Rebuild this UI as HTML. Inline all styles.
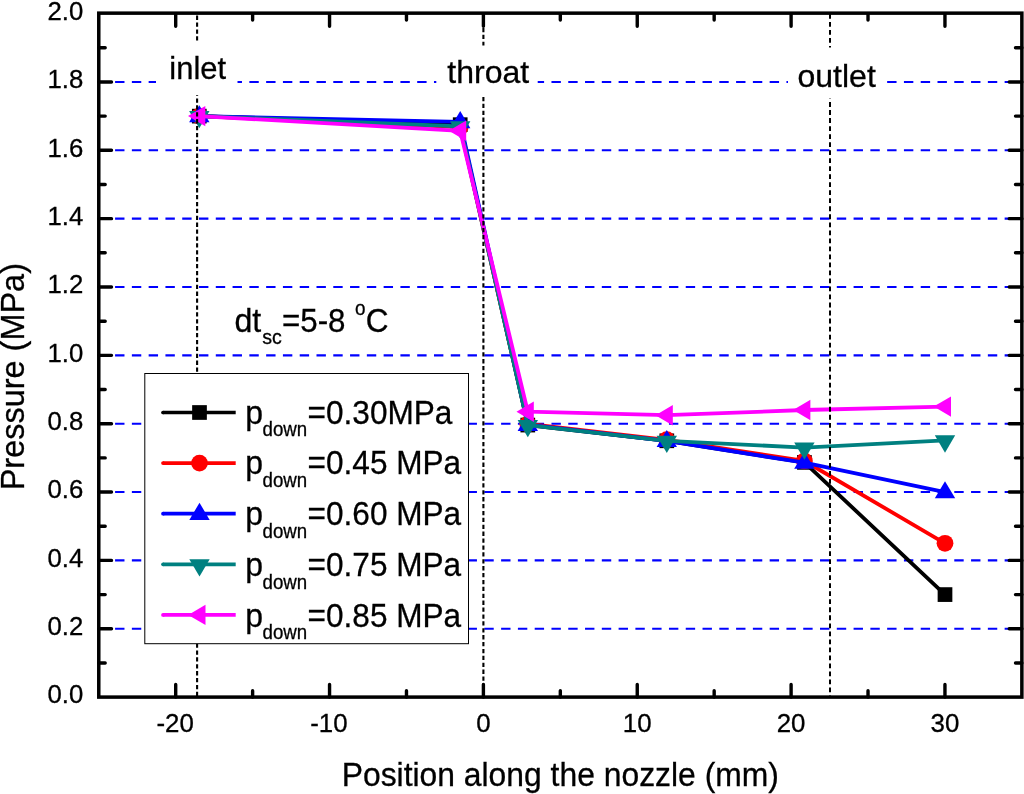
<!DOCTYPE html><html><head><meta charset="utf-8"><title>Pressure along the nozzle</title>
<style>html,body{margin:0;padding:0;background:#fff;}body{width:1024px;height:794px;overflow:hidden;}svg{display:block;}text{font-family:"Liberation Sans", Arial, sans-serif;fill:#000;stroke:#000;stroke-width:0.3px;}</style></head><body>
<svg width="1024" height="794" viewBox="0 0 1024 794">
<rect x="0" y="0" width="1024" height="794" fill="#fff"/>
<line x1="98.3" y1="628.75" x2="1021.9" y2="628.75" stroke="#0000ff" stroke-width="2.1" stroke-dasharray="9.4 7.384"/>
<line x1="98.3" y1="560.40" x2="1021.9" y2="560.40" stroke="#0000ff" stroke-width="2.1" stroke-dasharray="9.4 7.384"/>
<line x1="98.3" y1="492.05" x2="1021.9" y2="492.05" stroke="#0000ff" stroke-width="2.1" stroke-dasharray="9.4 7.384"/>
<line x1="98.3" y1="423.70" x2="1021.9" y2="423.70" stroke="#0000ff" stroke-width="2.1" stroke-dasharray="9.4 7.384"/>
<line x1="98.3" y1="355.35" x2="1021.9" y2="355.35" stroke="#0000ff" stroke-width="2.1" stroke-dasharray="9.4 7.384"/>
<line x1="98.3" y1="287.00" x2="1021.9" y2="287.00" stroke="#0000ff" stroke-width="2.1" stroke-dasharray="9.4 7.384"/>
<line x1="98.3" y1="218.65" x2="1021.9" y2="218.65" stroke="#0000ff" stroke-width="2.1" stroke-dasharray="9.4 7.384"/>
<line x1="98.3" y1="150.30" x2="1021.9" y2="150.30" stroke="#0000ff" stroke-width="2.1" stroke-dasharray="9.4 7.384"/>
<line x1="98.3" y1="81.95" x2="1021.9" y2="81.95" stroke="#0000ff" stroke-width="2.1" stroke-dasharray="9.4 7.384"/>
<path d="M98.8 662.93h6.4M1021.9 662.93h-6.4M98.8 628.75h12.7M1021.9 628.75h-12.7M98.8 594.58h6.4M1021.9 594.58h-6.4M98.8 560.40h12.7M1021.9 560.40h-12.7M98.8 526.23h6.4M1021.9 526.23h-6.4M98.8 492.05h12.7M1021.9 492.05h-12.7M98.8 457.88h6.4M1021.9 457.88h-6.4M98.8 423.70h12.7M1021.9 423.70h-12.7M98.8 389.53h6.4M1021.9 389.53h-6.4M98.8 355.35h12.7M1021.9 355.35h-12.7M98.8 321.18h6.4M1021.9 321.18h-6.4M98.8 287.00h12.7M1021.9 287.00h-12.7M98.8 252.82h6.4M1021.9 252.82h-6.4M98.8 218.65h12.7M1021.9 218.65h-12.7M98.8 184.48h6.4M1021.9 184.48h-6.4M98.8 150.30h12.7M1021.9 150.30h-12.7M98.8 116.12h6.4M1021.9 116.12h-6.4M98.8 81.95h12.7M1021.9 81.95h-12.7M98.8 47.77h6.4M1021.9 47.77h-6.4M175.70 697.1v-12.7M175.70 13.6v12.7M252.62 697.1v-6.4M252.62 13.6v6.4M329.55 697.1v-12.7M329.55 13.6v12.7M406.47 697.1v-6.4M406.47 13.6v6.4M483.40 697.1v-12.7M483.40 13.6v12.7M560.32 697.1v-6.4M560.32 13.6v6.4M637.25 697.1v-12.7M637.25 13.6v12.7M714.17 697.1v-6.4M714.17 13.6v6.4M791.10 697.1v-12.7M791.10 13.6v12.7M868.02 697.1v-6.4M868.02 13.6v6.4M944.95 697.1v-12.7M944.95 13.6v12.7" stroke="#000" stroke-width="3.4" fill="none" stroke-linecap="round"/>
<polyline points="199.3,116.1 460.2,124.7 527.8,425.1 666.8,440.8 804.4,462.4 945.0,594.6" fill="none" stroke="#000000" stroke-width="3.8" stroke-linejoin="round"/>
<rect x="191.95" y="108.78" width="14.7" height="14.7" fill="#000000"/>
<rect x="452.85" y="117.32" width="14.7" height="14.7" fill="#000000"/>
<rect x="520.45" y="417.72" width="14.7" height="14.7" fill="#000000"/>
<rect x="659.45" y="433.44" width="14.7" height="14.7" fill="#000000"/>
<rect x="797.05" y="455.04" width="14.7" height="14.7" fill="#000000"/>
<rect x="937.65" y="587.23" width="14.7" height="14.7" fill="#000000"/>
<polyline points="199.3,116.1 460.2,127.1 527.8,424.0 666.8,439.8 804.4,461.0 945.0,543.3" fill="none" stroke="#ff0000" stroke-width="3.8" stroke-linejoin="round"/>
<circle cx="199.30" cy="116.12" r="8.4" fill="#ff0000"/>
<circle cx="460.20" cy="127.06" r="8.4" fill="#ff0000"/>
<circle cx="527.80" cy="424.04" r="8.4" fill="#ff0000"/>
<circle cx="666.80" cy="439.76" r="8.4" fill="#ff0000"/>
<circle cx="804.40" cy="460.95" r="8.4" fill="#ff0000"/>
<circle cx="945.00" cy="543.31" r="8.4" fill="#ff0000"/>
<polyline points="199.3,116.1 460.2,121.9 527.8,424.7 666.8,440.8 804.4,462.7 945.0,492.1" fill="none" stroke="#0000ff" stroke-width="3.8" stroke-linejoin="round"/>
<path d="M199.30 105.22L209.50 122.33L189.10 122.33Z" fill="#0000ff"/>
<path d="M460.20 111.03L470.40 128.13L450.00 128.13Z" fill="#0000ff"/>
<path d="M527.80 413.83L538.00 430.93L517.60 430.93Z" fill="#0000ff"/>
<path d="M666.80 429.89L677.00 446.99L656.60 446.99Z" fill="#0000ff"/>
<path d="M804.40 451.76L814.60 468.86L794.20 468.86Z" fill="#0000ff"/>
<path d="M945.00 481.15L955.20 498.25L934.80 498.25Z" fill="#0000ff"/>
<polyline points="199.3,116.1 460.2,126.4 527.8,425.1 666.8,440.8 804.4,447.6 945.0,440.4" fill="none" stroke="#008080" stroke-width="3.8" stroke-linejoin="round"/>
<path d="M199.30 128.32L209.50 111.03L189.10 111.03Z" fill="#008080"/>
<path d="M460.20 138.58L470.40 121.28L450.00 121.28Z" fill="#008080"/>
<path d="M527.80 437.27L538.00 419.97L517.60 419.97Z" fill="#008080"/>
<path d="M666.80 452.99L677.00 435.69L656.60 435.69Z" fill="#008080"/>
<path d="M804.40 459.82L814.60 442.52L794.20 442.52Z" fill="#008080"/>
<path d="M945.00 452.65L955.20 435.35L934.80 435.35Z" fill="#008080"/>
<polyline points="199.3,116.1 460.2,130.8 527.8,411.7 666.8,415.2 804.4,410.0 945.0,406.6" fill="none" stroke="#ff00ff" stroke-width="3.8" stroke-linejoin="round"/>
<path d="M188.00 116.12L205.30 105.92L205.30 126.33Z" fill="#ff00ff"/>
<path d="M448.90 130.82L466.20 120.62L466.20 141.02Z" fill="#ff00ff"/>
<path d="M516.50 411.74L533.80 401.54L533.80 421.94Z" fill="#ff00ff"/>
<path d="M655.50 415.22L672.80 405.02L672.80 425.42Z" fill="#ff00ff"/>
<path d="M793.10 410.03L810.40 399.83L810.40 420.23Z" fill="#ff00ff"/>
<path d="M933.70 406.61L951.00 396.41L951.00 416.81Z" fill="#ff00ff"/>
<line x1="197.1" y1="13.6" x2="197.1" y2="697.1" stroke="#000" stroke-width="2.1" stroke-dasharray="4.3 2.6" stroke-dashoffset="4.9"/>
<line x1="483.4" y1="13.6" x2="483.4" y2="697.1" stroke="#000" stroke-width="2.1" stroke-dasharray="4.3 2.6" stroke-dashoffset="6.4"/>
<line x1="830" y1="697.1" x2="830" y2="13.6" stroke="#000" stroke-width="2.0" stroke-dasharray="4.8 3.22" stroke-dashoffset="3.26"/>
<rect x="156" y="41" width="81.5" height="54" fill="#fff"/>
<rect x="436.3" y="45.5" width="101.4" height="50" fill="#fff"/>
<rect x="788" y="47.5" width="99" height="51" fill="#fff"/>
<text transform="translate(169.3,78.9) scale(0.968,1)" font-size="32">inlet</text>
<text x="447.3" y="82.5" font-size="32">throat</text>
<text x="797.5" y="86.5" font-size="32">outlet</text>
<rect x="98.77" y="13.15" width="923.10" height="683.95" fill="none" stroke="#000" stroke-width="3.5"/>
<rect x="144.8" y="373.5" width="323.7" height="270.2" fill="#fff" stroke="#000" stroke-width="1"/>
<path d="M163 412.5H235.7" stroke="#000000" stroke-width="3.7" fill="none"/>
<circle cx="163" cy="412.5" r="1.85" fill="#000000"/>
<rect x="192.15" y="405.15" width="14.7" height="14.7" fill="#000000"/>
<text transform="translate(245.2,423.5) scale(0.94,1)" font-size="34">p</text>
<text transform="translate(262.6,435.8) scale(0.958,1)" font-size="19.5">down</text>
<text transform="translate(307.6,423.5) scale(0.929,1)" font-size="34">=0.30MPa</text>
<path d="M163 463.1H235.7" stroke="#ff0000" stroke-width="3.7" fill="none"/>
<circle cx="163" cy="463.1" r="1.85" fill="#ff0000"/>
<circle cx="199.50" cy="463.10" r="8.4" fill="#ff0000"/>
<text transform="translate(245.2,474.4) scale(0.94,1)" font-size="34">p</text>
<text transform="translate(262.6,486.7) scale(0.958,1)" font-size="19.5">down</text>
<text transform="translate(307.6,474.4) scale(0.929,1)" font-size="34">=0.45 MPa</text>
<path d="M163 513.7H235.7" stroke="#0000ff" stroke-width="3.7" fill="none"/>
<circle cx="163" cy="513.7" r="1.85" fill="#0000ff"/>
<path d="M199.50 502.80L209.70 519.90L189.30 519.90Z" fill="#0000ff"/>
<text transform="translate(245.2,525.3) scale(0.94,1)" font-size="34">p</text>
<text transform="translate(262.6,537.6) scale(0.958,1)" font-size="19.5">down</text>
<text transform="translate(307.6,525.3) scale(0.929,1)" font-size="34">=0.60 MPa</text>
<path d="M163 564.3H235.7" stroke="#008080" stroke-width="3.7" fill="none"/>
<circle cx="163" cy="564.3" r="1.85" fill="#008080"/>
<path d="M199.50 576.50L209.70 559.20L189.30 559.20Z" fill="#008080"/>
<text transform="translate(245.2,576.2) scale(0.94,1)" font-size="34">p</text>
<text transform="translate(262.6,588.5) scale(0.958,1)" font-size="19.5">down</text>
<text transform="translate(307.6,576.2) scale(0.929,1)" font-size="34">=0.75 MPa</text>
<path d="M163 614.9H235.7" stroke="#ff00ff" stroke-width="3.7" fill="none"/>
<circle cx="163" cy="614.9" r="1.85" fill="#ff00ff"/>
<path d="M188.20 614.90L205.50 604.70L205.50 625.10Z" fill="#ff00ff"/>
<text transform="translate(245.2,627.1) scale(0.94,1)" font-size="34">p</text>
<text transform="translate(262.6,639.4) scale(0.958,1)" font-size="19.5">down</text>
<text transform="translate(307.6,627.1) scale(0.929,1)" font-size="34">=0.85 MPa</text>
<text transform="translate(234.5,331.6) scale(0.945,1)" font-size="34">dt</text>
<text transform="translate(262.3,344.0) scale(0.98,1)" font-size="20">sc</text>
<text transform="translate(282.0,331.6) scale(0.921,1)" font-size="34">=5-8</text>
<text transform="translate(354.9,314.6) scale(0.945,1)" font-size="20">o</text>
<text transform="translate(365.7,331.6) scale(0.93,1)" font-size="34">C</text>
<text transform="translate(83.3,703.3) scale(1.03,1)" font-size="25" text-anchor="end">0.0</text>
<text transform="translate(83.3,635.0) scale(1.03,1)" font-size="25" text-anchor="end">0.2</text>
<text transform="translate(83.3,566.6) scale(1.03,1)" font-size="25" text-anchor="end">0.4</text>
<text transform="translate(83.3,498.2) scale(1.03,1)" font-size="25" text-anchor="end">0.6</text>
<text transform="translate(83.3,429.9) scale(1.03,1)" font-size="25" text-anchor="end">0.8</text>
<text transform="translate(83.3,361.6) scale(1.03,1)" font-size="25" text-anchor="end">1.0</text>
<text transform="translate(83.3,293.2) scale(1.03,1)" font-size="25" text-anchor="end">1.2</text>
<text transform="translate(83.3,224.8) scale(1.03,1)" font-size="25" text-anchor="end">1.4</text>
<text transform="translate(83.3,156.5) scale(1.03,1)" font-size="25" text-anchor="end">1.6</text>
<text transform="translate(83.3,88.2) scale(1.03,1)" font-size="25" text-anchor="end">1.8</text>
<text transform="translate(83.3,19.8) scale(1.03,1)" font-size="25" text-anchor="end">2.0</text>
<text transform="translate(175.1,731.5) scale(1.035,1)" font-size="25" text-anchor="middle">-20</text>
<text transform="translate(328.9,731.5) scale(1.035,1)" font-size="25" text-anchor="middle">-10</text>
<text transform="translate(483.4,731.5) scale(1.035,1)" font-size="25" text-anchor="middle">0</text>
<text transform="translate(637.2,731.5) scale(1.035,1)" font-size="25" text-anchor="middle">10</text>
<text transform="translate(791.1,731.5) scale(1.035,1)" font-size="25" text-anchor="middle">20</text>
<text transform="translate(945.0,731.5) scale(1.035,1)" font-size="25" text-anchor="middle">30</text>
<text transform="translate(560.3,785.7) scale(0.937,1)" font-size="34" text-anchor="middle">Position along the nozzle (mm)</text>
<text transform="translate(23.8,376.7) rotate(-90) scale(0.955,1)" font-size="34" text-anchor="middle">Pressure (MPa)</text>
</svg></body></html>
